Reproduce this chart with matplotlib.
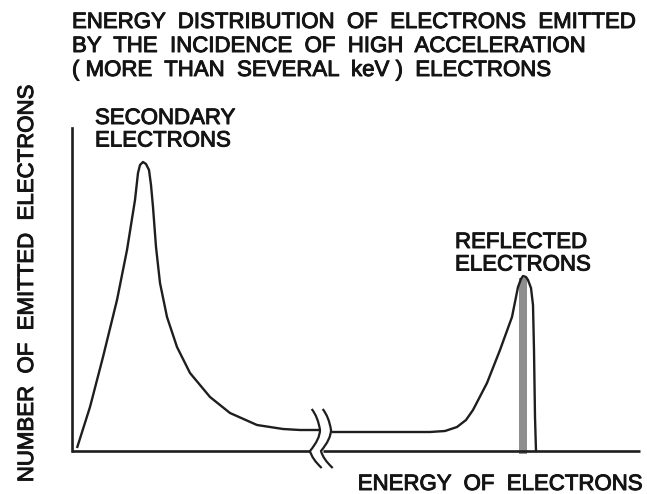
import numpy as np
import matplotlib
matplotlib.use("Agg")
import matplotlib.pyplot as plt
import matplotlib.patheffects as pe
from matplotlib.path import Path
from matplotlib.patches import PathPatch

W, H = 647, 494

# Curve (arbitrary energy units, arbitrary counts); split at the axis break
energy_left = [5, 18, 31, 45, 55, 63, 66, 68, 71, 74, 77, 79, 81, 84, 88, 95, 105, 118,
               138, 158, 185, 211, 228, 248]
count_left = [3, 44, 94, 151, 201, 251, 278, 286, 289, 287, 281, 266, 244, 204, 168, 134,
              104, 78, 54, 38, 26, 22, 21, 21]
energy_right = [260, 358, 373, 385, 394, 401, 415, 428, 440, 446, 449, 451, 454, 456, 459,
                461, 462, 463, 464]
count_right = [19, 19, 20, 24, 31, 41, 68, 101, 134, 164, 172, 175, 174, 171, 163, 146,
               101, 34, 0]

# Reflected electrons band (grey bar)
band_energy = 451
band_width = 8
band_count = 173

title_lines = ["ENERGY  DISTRIBUTION  OF  ELECTRONS  EMITTED",
               "BY  THE  INCIDENCE  OF  HIGH  ACCELERATION",
               "( MORE  THAN  SEVERAL  keV )  ELECTRONS"]
xlabel = "ENERGY  OF  ELECTRONS"
ylabel = "NUMBER  OF  EMITTED  ELECTRONS"
label_secondary = ["SECONDARY", "ELECTRONS"]
label_reflected = ["REFLECTED", "ELECTRONS"]

plt.rcParams['font.family'] = ['Liberation Sans', 'DejaVu Sans']

fig = plt.figure(figsize=(W / 100, H / 100), dpi=100)
ax_l, ax_r, ax_b, ax_t = 72, 640, 451, 128
ax = fig.add_axes([ax_l / W, 1 - ax_b / H, (ax_r - ax_l) / W, (ax_b - ax_t) / H])
ax.set_xlim(0, ax_r - ax_l)
ax.set_ylim(0, ax_b - ax_t)
for s in ['top', 'right', 'bottom']:
    ax.spines[s].set_visible(False)
ax.spines['left'].set_linewidth(1.9)
ax.spines['left'].set_color('#1e1e1e')
ax.set_xticks([])
ax.set_yticks([])
ax.patch.set_alpha(0)

lc = '#1e1e1e'
lw = 1.7
ax.bar([band_energy], [band_count + 3], bottom=-3, width=band_width, color='#8e8e8e',
       zorder=1, clip_on=False)
ax.plot(energy_left, count_left, color=lc, lw=lw, solid_capstyle='butt', solid_joinstyle='round')
ax.plot(energy_right, count_right, color=lc, lw=lw, solid_capstyle='butt', solid_joinstyle='round')
# broken x axis
ax.plot([0, 238], [0, 0], color=lc, lw=1.9, clip_on=False, solid_capstyle='butt')
ax.plot([251, ax_r - ax_l], [0, 0], color=lc, lw=1.9, clip_on=False, solid_capstyle='butt')

# break marks (wavy)
for off in (0, 11):
    p0 = (239.7 + off, 42)
    p1 = (248 + off, 21)
    p2 = (238 + off, 0)
    p3 = (249.7 + off, -17)
    verts = [p0, (246 + off, 34), p1,
             (248 + off, 12), p2,
             (240 + off, -8), p3]
    codes = [Path.MOVETO, Path.CURVE3, Path.CURVE3, Path.CURVE3, Path.CURVE3,
             Path.CURVE3, Path.CURVE3]
    ax.add_patch(PathPatch(Path(verts, codes), fill=False, edgecolor=lc, lw=1.6,
                           clip_on=False))

fs = 16
tc = '#141414'
effects = [pe.withStroke(linewidth=0.7, foreground=tc)]


def put(x, y, s, **kw):
    fig.text(x / W, 1 - y / H, s, fontsize=fs, color=tc, path_effects=effects, **kw)


for i, line in enumerate(title_lines):
    put(72, 28 + i * 24, line, va='baseline', ha='left')
for i, line in enumerate(label_secondary):
    put(95, 124 + i * 22.5, line, va='baseline', ha='left')
for i, line in enumerate(label_reflected):
    put(455, 248 + i * 22.5, line, va='baseline', ha='left')
put(643, 490, xlabel, va='baseline', ha='right')
put(33, 283, ylabel, va='baseline', ha='center', rotation=90, rotation_mode='anchor')

fig.savefig("out.png", dpi=100)
